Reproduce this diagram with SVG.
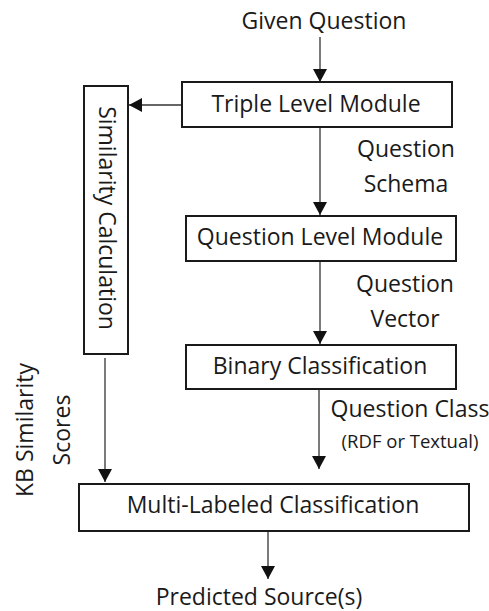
<svg xmlns="http://www.w3.org/2000/svg" width="489" height="611" viewBox="0 0 489 611">
<defs>
<style>
text{font-family:"Open Sans","Noto Sans","DejaVu Sans",sans-serif;fill:#1a1a1a;font-size:23px}
.box{fill:#fff;stroke:#1a1a1a;stroke-width:2}
.c{stroke:#333;stroke-width:1.3;fill:none;marker-end:url(#ah)}
.sm{font-size:18.5px}
</style>
<marker id="ah" markerWidth="14" markerHeight="14" refX="13" refY="7" orient="auto" markerUnits="userSpaceOnUse"><path d="M0,0 L13,7 L0,14 Z" fill="#111"/></marker>
</defs>
<rect width="489" height="611" fill="#fff"/>
<g id="connectors">
<line class="c" x1="320" y1="37" x2="320" y2="82"/>
<line class="c" x1="182" y1="105" x2="129" y2="105"/>
<line class="c" x1="320" y1="127" x2="320" y2="215"/>
<line class="c" x1="320" y1="261" x2="320" y2="344"/>
<line class="c" x1="319" y1="389" x2="319" y2="469"/>
<line class="c" x1="105" y1="358" x2="105" y2="482"/>
<line class="c" x1="268" y1="531" x2="268" y2="579"/>
</g>
<g id="given"><text x="324" y="29" text-anchor="middle">Given Question</text></g>
<g id="triple"><rect class="box" x="182" y="82" width="270" height="45"/><text x="316" y="112" text-anchor="middle">Triple Level Module</text></g>
<g id="similarity"><rect class="box" x="84" y="86" width="44" height="268"/><text transform="translate(99,218) rotate(90)" text-anchor="middle">Similarity Calculation</text></g>
<g id="qlevel"><rect class="box" x="186" y="216" width="270" height="45"/><text x="320" y="245" text-anchor="middle">Question Level Module</text></g>
<g id="binary"><rect class="box" x="186" y="345" width="270" height="44"/><text x="320" y="374" text-anchor="middle">Binary Classification</text></g>
<g id="multi"><rect class="box" x="79" y="484" width="390" height="47"/><text x="273" y="513" text-anchor="middle">Multi-Labeled Classification</text></g>
<g id="labels">
<text x="406" y="157" text-anchor="middle">Question</text>
<text x="406" y="192" text-anchor="middle">Schema</text>
<text x="405" y="292" text-anchor="middle">Question</text>
<text x="405" y="327" text-anchor="middle">Vector</text>
<text x="410" y="417" text-anchor="middle">Question Class</text>
<text class="sm" x="410" y="448" text-anchor="middle">(RDF or Textual)</text>
<text x="259" y="605" text-anchor="middle">Predicted Source(s)</text>
<text transform="translate(33,430) rotate(-90)" text-anchor="middle">KB Similarity</text>
<text transform="translate(70,430) rotate(-90)" text-anchor="middle">Scores</text>
</g>
</svg>
